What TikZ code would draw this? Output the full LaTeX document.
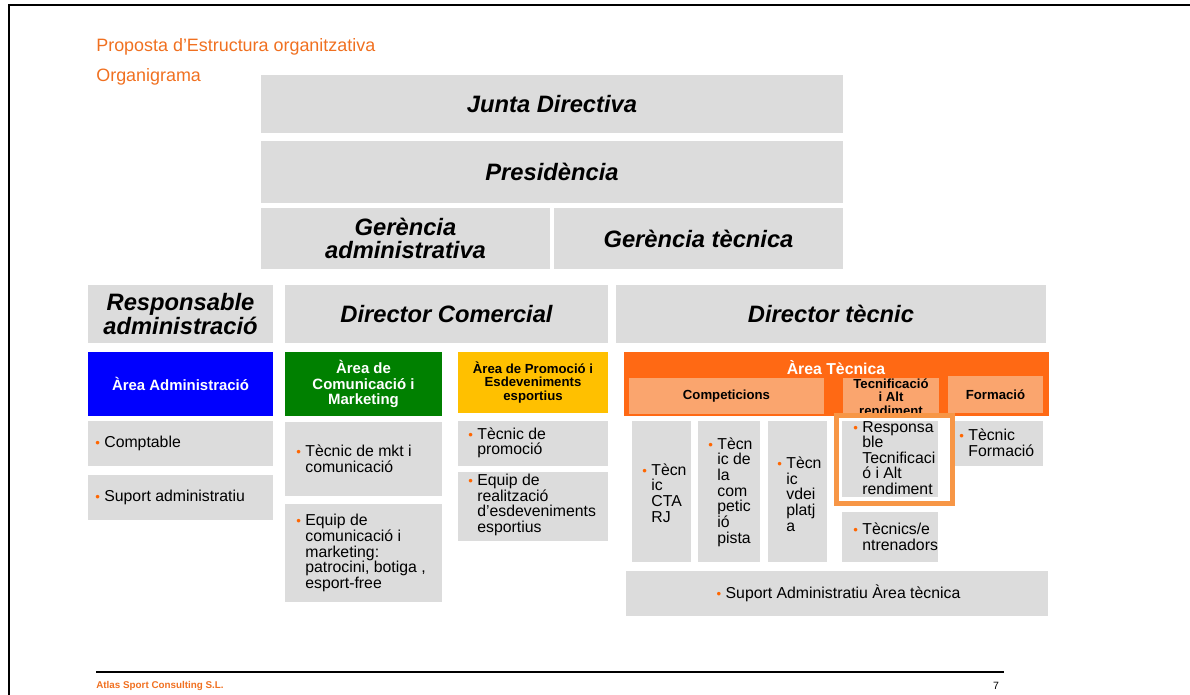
\documentclass[tikz,border=0pt]{standalone}
\usepackage{fontspec}
\setmainfont{Liberation Sans}
\usepackage{tikz}
\usepackage{xcolor}

\newcommand{\bul}{\makebox[0pt][r]{\textcolor{dot}{\fontsize{7.5}{7}\selectfont\textbullet}\hspace{2.5pt}}}

\begin{document}
\begin{tikzpicture}[x=0.02cm,y=-0.02cm,
  box/.style={fill=boxgrey},
  big/.style={font=\bfseries\itshape\fontsize{13.5}{13.5}\selectfont,align=center},
  head/.style={font=\bfseries\fontsize{8.5}{9}\selectfont,align=center,text=white},
  sub/.style={font=\bfseries\fontsize{7.5}{7.7}\selectfont,align=center,text=black},
  item/.style={anchor=west,align=left,inner sep=0pt,font=\fontsize{9}{8.9}\selectfont}]
% Define colours
\definecolor{boxgrey}{RGB}{220,220,220}
\definecolor{admin}{RGB}{0,0,255}
\definecolor{comm}{RGB}{0,128,0}
\definecolor{promo}{RGB}{255,192,0}
\definecolor{tecn}{RGB}{255,105,20}
\definecolor{tecnlight}{RGB}{250,165,110}
\definecolor{frameorange}{RGB}{247,150,70}
\definecolor{titleorange}{RGB}{240,112,32}
\definecolor{dot}{RGB}{255,102,0}

\useasboundingbox (0,0) rectangle (1190,695);

% Page frame and titles
\draw[line width=1.2pt] (9,695) -- (9,5) -- (1190,5);
\node[anchor=west,inner sep=0pt,titleorange,font=\fontsize{10.2}{10}\selectfont] (titol) at (96,47) {Proposta d’Estructura organitzativa};
\node[anchor=west,inner sep=0pt,titleorange,font=\fontsize{10.2}{10}\selectfont] (organigrama) at (96,77) {Organigrama};

% Governing levels
\fill[box] (261,75) rectangle (843,133) node[midway,big] (junta) {Junta Directiva};
\fill[box] (261,141) rectangle (843,203) node[midway,big] (presidencia) {Presidència};
\fill[box] (261,208) rectangle (550,269) node[midway,big] (geradmin) {Gerència\\administrativa};
\fill[box] (554,208) rectangle (843,269) node[midway,big] (gertecnica) {Gerència tècnica};

% Directors
\fill[box] (88,285) rectangle (273,343) node[midway,big] (respadmin) {Responsable\\administració};
\fill[box] (285,285) rectangle (608,343) node[midway,big] (dircomercial) {Director Comercial};
\fill[box] (616,285) rectangle (1046,343) node[midway,big] (dirtecnic) {Director tècnic};

% Areas
\fill[admin] (88,352) rectangle (273,416) node[midway,head] (areaadmin) {Àrea Administració};
\fill[comm] (285,352) rectangle (442,416) node[midway,head] (areacomm) {Àrea de\\Comunicació i\\Marketing};
\fill[promo] (458,352) rectangle (608,413) node[midway,sub] (areapromo) {Àrea de Promoció i\\Esdeveniments\\esportius};
\fill[tecn] (624,352) rectangle (1049,416);
\node[head,font=\bfseries\fontsize{9}{9}\selectfont] (areatecn) at (836,368) {Àrea Tècnica};
\fill[tecnlight] (629,378) rectangle (824,414) node[midway,sub] (competicions) {Competicions};
\fill[tecnlight] (843,378) rectangle (939,414);
\node[sub] (tecnificacio) at (891,397) {Tecnificació\\i Alt\\rendiment};
\fill[tecnlight] (948,376) rectangle (1043,413) node[midway,sub] (formacio) {Formació};

% Administracio
\fill[box] (88,421) rectangle (273,466);
\node[item] (comptable) at (104,443) {\bul Comptable};
\fill[box] (88,475) rectangle (273,520);
\node[item] (suportadmin) at (104,497) {\bul Suport administratiu};

% Comunicacio
\fill[box] (285,422) rectangle (442,496);
\node[item] (tecmkt) at (305,459) {\bul Tècnic de mkt i\\comunicació};
\fill[box] (285,504) rectangle (442,602);
\node[item] (equipcomm) at (305,553) {\bul Equip de\\comunicació i\\marketing:\\patrocini, botiga ,\\esport-free};

% Promocio
\fill[box] (458,421) rectangle (608,466);
\node[item] (tecpromo) at (477,443) {\bul Tècnic de\\promoció};
\fill[box] (458,472) rectangle (608,541);
\node[item] (equippromo) at (477,505) {\bul Equip de\\realització\\d’esdeveniments\\esportius};

% Area tecnica
\fill[box] (632,421) rectangle (691,562);
\node[item] (tecctarj) at (651,493) {\bul Tècn\\ic\\CTA\\RJ};
\fill[box] (698,421) rectangle (760,562);
\node[item] (tecpista) at (717,492) {\bul Tècn\\ic de\\la\\com\\petic\\ió\\pista};
\fill[box] (768,421) rectangle (827,562);
\node[item] (tecplatja) at (786,494) {\bul Tècn\\ic\\vdei\\platj\\a};
\fill[box] (950,421) rectangle (1043,466);
\node[item] (tecformacio) at (968,443) {\bul Tècnic\\Formació};
\draw[line width=2.8pt,draw=frameorange,fill=white] (836.5,415.5) rectangle (952.5,503.5);
\fill[box] (842,421) rectangle (938,497);
\node[item] (resptecnif) at (862,458) {\bul Responsa\\ble\\Tecnificaci\\ó i Alt\\rendiment};
\fill[box] (842,512) rectangle (938,562);
\node[item] (entrenadors) at (862,537) {\bul Tècnics/e\\ntrenadors};
\fill[box] (626,571) rectangle (1048,616);
\node[item,anchor=center] (suporttecn) at (843,593) {\bul Suport Administratiu Àrea tècnica};

% Footer
\coordinate (peuesq) at (96,672);
\coordinate (peudre) at (1004,672);
\draw[line width=0.6pt] (peuesq) -- (peudre);
\node[anchor=west,inner sep=0pt,titleorange,font=\bfseries\fontsize{5.6}{6}\selectfont] (empresa) at (96,686) {Atlas Sport Consulting S.L.};
\node[inner sep=0pt,font=\fontsize{6}{6}\selectfont] (pagina) at (996,686) {7};
\end{tikzpicture}
\end{document}
